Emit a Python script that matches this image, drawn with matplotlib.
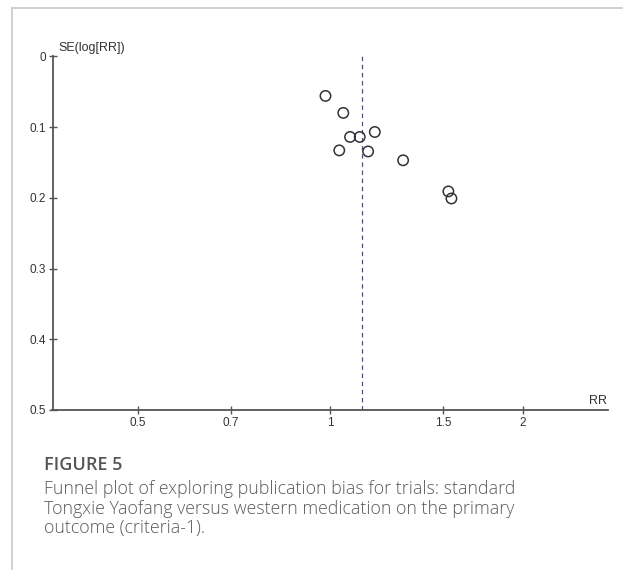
import numpy as np
import matplotlib
matplotlib.use("Agg")
import matplotlib.pyplot as plt
from matplotlib.lines import Line2D

# study estimates
rr = [0.983, 1.048, 1.074, 1.112, 1.174, 1.033, 1.146, 1.30, 1.530, 1.547]
se = [0.056, 0.080, 0.114, 0.114, 0.107, 0.133, 0.1345, 0.147, 0.191, 0.201]
pooled_rr = 1.12

x_ticks = [0.5, 0.7, 1, 1.5, 2]
x_tick_labels = ["0.5", "0.7", "1", "1.5", "2"]
y_ticks = [0, 0.1, 0.2, 0.3, 0.4, 0.5]
y_tick_labels = ["0", "0.1", "0.2", "0.3", "0.4", "0.5"]

caption_title = "FIGURE 5"
caption_lines = [
    "Funnel plot of exploring publication bias for trials: standard",
    "Tongxie Yaofang versus western medication on the primary",
    "outcome (criteria-1).",
]

W, H = 623, 570
fig = plt.figure(figsize=(W / 100, H / 100), dpi=100)

def fx(px):
    return px / W

def fy(py):
    return 1 - py / H

# page frame (light gray)
fig.add_artist(Line2D([fx(12), fx(12)], [fy(7.5), 0], color="#c8c8c8", lw=1.2))
fig.add_artist(Line2D([fx(12), 1], [fy(7.5), fy(7.5)], color="#c8c8c8", lw=1.2))

ax = fig.add_axes([fx(52.5), fy(410), fx(608) - fx(52.5), fy(56.3) - fy(410)])
ax.set_xscale("log")
ax.set_xlim(np.exp(-1), np.exp(1))
ax.set_ylim(0.5, 0)

ax.scatter(rr, se, s=56, facecolors="none", edgecolors="#333333", linewidths=1.1, zorder=3)
ax.axvline(pooled_rr, color="#4a4a96", lw=0.9, ls=(0, (3.5, 3)), zorder=2)

for side in ["top", "right"]:
    ax.spines[side].set_visible(False)
for side in ["left", "bottom"]:
    ax.spines[side].set_color("#555555")
    ax.spines[side].set_linewidth(1.3)

ax.set_xticks(x_ticks)
ax.set_xticklabels(x_tick_labels)
ax.xaxis.set_minor_locator(matplotlib.ticker.NullLocator())
ax.set_yticks(y_ticks)
ax.set_yticklabels(y_tick_labels)
ax.tick_params(direction="inout", length=5.5, width=1.0, color="#555555",
               labelsize=8.5, labelcolor="#333333", pad=2)
for lbl in ax.get_xticklabels() + ax.get_yticklabels():
    lbl.set_family("Liberation Sans")

fig.text(fx(58), fy(54), "SE(log[RR])", fontsize=9, color="#333333",
         family="Liberation Sans", ha="left", va="bottom")
fig.text(fx(607), fy(407), "RR", fontsize=9, color="#333333",
         family="Liberation Sans", ha="right", va="bottom")

fig.text(fx(44), fy(470.5), caption_title, fontsize=13, color="#555555",
         family="Open Sans", fontweight="semibold", ha="left", va="baseline")
for i, line in enumerate(caption_lines):
    fig.text(fx(44), fy(494.3 + i * 19.6), line, fontsize=12.8, color="#5a5a5a",
             family="Open Sans", fontweight="light", ha="left", va="baseline")

fig.savefig("out.png", dpi=100)
